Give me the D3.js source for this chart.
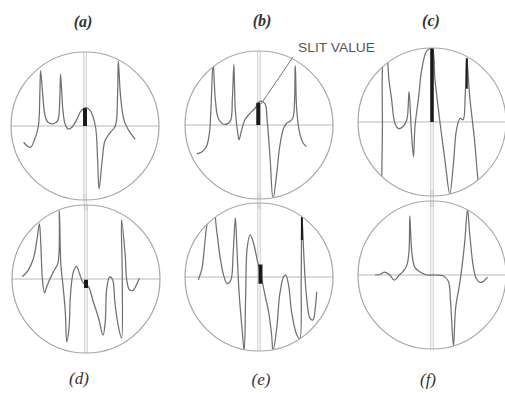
<!DOCTYPE html>
<html><head><meta charset="utf-8">
<script src="https://cdn.jsdelivr.net/npm/d3@7"></script>
<style>body{margin:0;background:#fff}svg{display:block}</style>
</head><body>
<script>
// Panel labels
const panelLabels = ["(a)", "(b)", "(c)", "(d)", "(e)", "(f)"];
const calloutText = "SLIT VALUE";

// Traces in screen-relative units (u: -1..1 left→right, v: -1..1 bottom→top)
const traceA = [[-0.83,-0.22],[-0.74,-0.29],[-0.68,-0.18],[-0.63,0.0],[-0.61,0.45],[-0.60,0.75],[-0.57,0.41],[-0.54,0.14],[-0.50,0.05],[-0.43,0.03],[-0.37,0.07],[-0.34,0.40],[-0.33,0.70],[-0.30,0.23],[-0.27,0.03],[-0.23,-0.04],[-0.18,-0.02],[-0.11,0.09],[-0.05,0.21],[0.01,0.25],[0.07,0.21],[0.14,0.0],[0.17,-0.45],[0.19,-0.85],[0.23,-0.49],[0.27,-0.20],[0.34,-0.09],[0.41,0.0],[0.44,0.40],[0.45,0.88],[0.48,0.41],[0.53,0.07],[0.61,-0.09],[0.68,-0.18]];
const traceB = [[-0.84,-0.39],[-0.77,-0.36],[-0.71,-0.29],[-0.67,-0.11],[-0.65,0.20],[-0.62,0.85],[-0.59,0.34],[-0.55,0.09],[-0.48,0.01],[-0.39,0.05],[-0.36,0.35],[-0.34,0.82],[-0.32,0.20],[-0.29,-0.09],[-0.27,-0.20],[-0.24,-0.09],[-0.19,0.07],[-0.12,0.16],[-0.05,0.23],[0.01,0.32],[0.08,0.29],[0.11,0.07],[0.15,-0.45],[0.19,-1.0],[0.24,-0.65],[0.28,-0.29],[0.33,-0.05],[0.37,0.02],[0.42,0.05],[0.46,0.10],[0.49,0.80],[0.51,0.20],[0.55,-0.11],[0.60,-0.25],[0.64,-0.29]];
const traceC = [[-0.68,-0.80],[-0.67,-0.10],[-0.66,0.85],[-0.62,0.97],[-0.58,0.55],[-0.55,0.34],[-0.50,-0.02],[-0.45,-0.09],[-0.39,-0.06],[-0.34,0.03],[-0.31,0.41],[-0.28,-0.11],[-0.25,-0.47],[-0.23,-0.06],[-0.18,0.34],[-0.14,0.70],[-0.07,0.96],[0.0,0.99],[0.04,0.57],[0.11,-0.02],[0.18,-0.56],[0.24,-0.97],[0.29,-0.56],[0.33,-0.11],[0.38,0.05],[0.42,0.03],[0.45,0.40],[0.47,0.86],[0.51,0.34],[0.57,-0.20],[0.62,-0.78]];
const traceD = [[-0.86,0.03],[-0.78,0.12],[-0.71,0.28],[-0.66,0.55],[-0.63,0.75],[-0.61,0.46],[-0.59,0.01],[-0.56,-0.19],[-0.53,-0.10],[-0.44,0.10],[-0.38,0.21],[-0.36,0.92],[-0.34,0.20],[-0.31,-0.10],[-0.28,-0.44],[-0.26,-0.85],[-0.23,-0.67],[-0.21,-0.22],[-0.17,0.10],[-0.13,0.17],[-0.08,0.05],[-0.04,-0.05],[0.03,-0.10],[0.10,-0.31],[0.17,-0.53],[0.23,-0.76],[0.26,-0.58],[0.28,-0.13],[0.32,0.03],[0.36,-0.01],[0.39,-0.31],[0.43,-0.60],[0.48,-0.80],[0.49,0.0],[0.48,0.80],[0.53,0.32],[0.55,-0.01],[0.59,-0.15],[0.64,-0.15],[0.69,-0.06],[0.72,0.01]];
const traceE = [[-0.82,-0.04],[-0.77,0.12],[-0.73,0.48],[-0.70,0.72],[-0.62,0.95],[-0.57,0.61],[-0.53,0.30],[-0.48,0.03],[-0.43,-0.09],[-0.38,-0.04],[-0.35,0.30],[-0.32,0.80],[-0.30,0.43],[-0.27,-0.20],[-0.23,-0.69],[-0.20,-1.0],[-0.18,-0.24],[-0.16,0.39],[-0.12,0.57],[-0.08,0.48],[-0.02,0.21],[0.04,-0.04],[0.08,-0.24],[0.13,-0.47],[0.17,-0.78],[0.19,-1.0],[0.24,-0.69],[0.28,-0.24],[0.33,0.0],[0.36,0.03],[0.40,-0.11],[0.44,-0.47],[0.51,-0.78],[0.55,-0.83],[0.57,0.0],[0.58,0.82],[0.61,0.21],[0.64,-0.24],[0.69,-0.56],[0.73,-0.58],[0.76,-0.42],[0.78,-0.20]];
const traceF = [[-0.77,0.0],[-0.70,0.01],[-0.64,0.04],[-0.57,0.0],[-0.51,-0.07],[-0.45,-0.01],[-0.39,0.05],[-0.34,0.13],[-0.31,0.33],[-0.30,0.80],[-0.27,0.28],[-0.23,0.10],[-0.16,0.04],[-0.07,0.0],[0.04,0.0],[0.15,-0.01],[0.22,-0.08],[0.25,-0.35],[0.29,-0.96],[0.32,-0.44],[0.38,-0.08],[0.44,0.42],[0.48,0.89],[0.51,0.55],[0.56,0.10],[0.60,-0.05],[0.65,-0.10],[0.69,-0.09],[0.75,-0.03]];
// Slit value marks: [u, vBottom, vTop]
const slitA = [[0.0, 0.0, 0.24]];
const slitB = [[-0.01, 0.0, 0.30]];
const slitC = [[0.0, 0.0, 1.0], [0.47, 0.45, 0.86]];
const slitD = [[0.0, -0.12, -0.01]];
const slitE = [[0.02, -0.09, 0.17], [0.58, 0.50, 0.82]];
const slitF = [];

const traces = [traceA, traceB, traceC, traceD, traceE, traceF];
const slits = [slitA, slitB, slitC, slitD, slitE, slitF];
const slitWidths = [[4], [4], [3.5, 2], [4], [4, 2]];

const W = 505, H = 393;
const panels = [
  {cx: 85, cy: 126, r: 74, lx: 83, ly: 27, bold: true},
  {cx: 259, cy: 125, r: 74, lx: 262, ly: 26, bold: true},
  {cx: 432, cy: 122, r: 74, lx: 431, ly: 26, bold: true},
  {cx: 86, cy: 279, r: 74, lx: 79, ly: 384, bold: false},
  {cx: 259, cy: 277, r: 74, lx: 261, ly: 385, bold: false},
  {cx: 432, cy: 275, r: 74, lx: 428, ly: 385, bold: false}
];

const svg = d3.select("body").append("svg").attr("width", W).attr("height", H);
const defs = svg.append("defs");

// vertical graticule lines bridging the gap between the two rows
[0, 1, 2].forEach(c => {
  const t = panels[c], b = panels[c + 3];
  const xm = (t.cx + b.cx) / 2;
  [-1.2, 1.2].forEach(d => svg.append("line")
    .attr("x1", t.cx + d).attr("x2", b.cx + d)
    .attr("y1", t.cy + t.r - 6).attr("y2", b.cy - b.r + 6)
    .attr("stroke", "#c4c4c4").attr("stroke-width", 0.9));
});

panels.forEach((p, i) => {
  const x = d3.scaleLinear().domain([-1, 1]).range([p.cx - p.r, p.cx + p.r]);
  const y = d3.scaleLinear().domain([-1, 1]).range([p.cy + p.r, p.cy - p.r]);
  const id = "clip" + i;
  defs.append("clipPath").attr("id", id)
    .append("circle").attr("cx", p.cx).attr("cy", p.cy).attr("r", p.r);
  const g = svg.append("g");
  const inner = g.append("g").attr("clip-path", `url(#${id})`);
  inner.append("line").attr("x1", x(-1)).attr("x2", x(1)).attr("y1", y(0)).attr("y2", y(0))
    .attr("stroke", "#b8b8b8").attr("stroke-width", 1);
  [-1.2, 1.2].forEach(d => inner.append("line")
    .attr("x1", x(0) + d).attr("x2", x(0) + d).attr("y1", y(1)).attr("y2", y(-1))
    .attr("stroke", "#c4c4c4").attr("stroke-width", 0.9));
  const line = d3.line().x(d => x(d[0])).y(d => y(d[1])).curve(d3.curveCatmullRom.alpha(0.5));
  inner.append("path").attr("d", line(traces[i])).attr("fill", "none")
    .attr("stroke", "#707070").attr("stroke-width", 1.25).attr("stroke-linejoin", "round");
  slits[i].forEach((s, k) => inner.append("line")
    .attr("x1", x(s[0])).attr("x2", x(s[0])).attr("y1", y(s[1])).attr("y2", y(s[2]))
    .attr("stroke", "#1a1a1a").attr("stroke-width", slitWidths[i][k]));
  g.append("circle").attr("cx", p.cx).attr("cy", p.cy).attr("r", p.r)
    .attr("fill", "none").attr("stroke", "#a6a6a6").attr("stroke-width", 1.2);
  svg.append("text").attr("x", p.lx).attr("y", p.ly).attr("text-anchor", "middle")
    .attr("font-family", "'Liberation Serif', 'DejaVu Serif', serif")
    .attr("font-style", "italic").attr("font-weight", p.bold ? "bold" : "normal")
    .attr("font-size", p.bold ? 16 : 17).attr("fill", "#333").text(panelLabels[i]);
});

// SLIT VALUE callout
svg.append("text").attr("x", 298).attr("y", 52)
  .attr("font-family", "'Liberation Sans', Arial, sans-serif").attr("font-size", 13)
  .attr("textLength", 77).attr("lengthAdjust", "spacingAndGlyphs")
  .attr("fill", "#555").text(calloutText);
svg.append("line").attr("x1", 293).attr("y1", 57).attr("x2", 261).attr("y2", 104)
  .attr("stroke", "#777").attr("stroke-width", 1);
</script>
</body></html>
